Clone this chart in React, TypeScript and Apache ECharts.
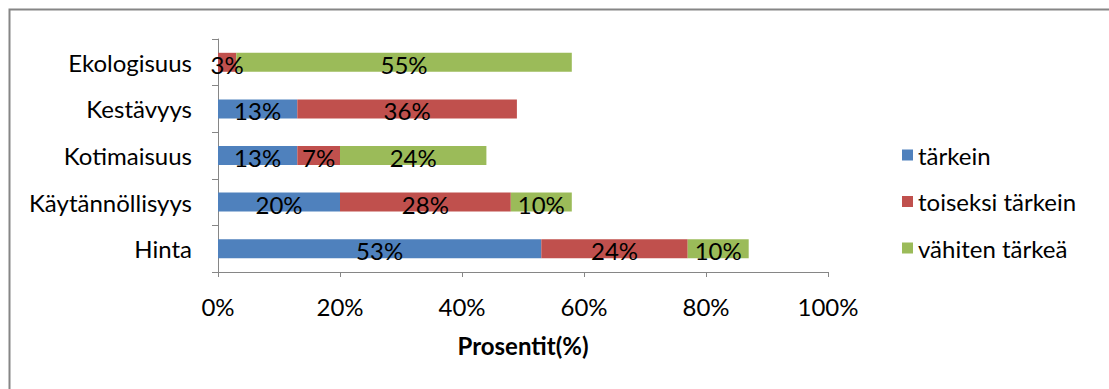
import React, { useEffect, useRef } from "react";
import * as echarts from "echarts";

const categories = ["Hinta", "Käytännöllisyys", "Kotimaisuus", "Kestävyys", "Ekologisuus"];
const tarkein = [53, 20, 13, 13, 0];
const toiseksi = [24, 28, 7, 36, 3];
const vahiten = [10, 10, 24, 0, 55];
const seriesNames = ["tärkein", "toiseksi tärkein", "vähiten tärkeä"];
const colors = ["#4F81BD", "#C0504D", "#9BBB59"];
const xTicks = [0, 20, 40, 60, 80, 100];

const FONT = "Lato";
const FS = 24;

export default function App() {
  const ref = useRef<HTMLDivElement>(null);
  useEffect(() => {
    if (!ref.current) return;
    const chart = echarts.init(ref.current, null, { renderer: "svg" });
    const mk = (name: string, data: number[], color: string) => ({
      name,
      type: "bar",
      stack: "total",
      data,
      barWidth: 19,
      itemStyle: { color },
      label: {
        show: true,
        position: "inside",
        color: "#000",
        fontFamily: FONT,
        fontSize: FS,
        offset: [0, 2],
        formatter: (p: any) => (p.value ? `${p.value}%` : ""),
      },
    });
    chart.setOption({
      animation: false,
      textStyle: { fontFamily: FONT },
      graphic: [
        {
          type: "rect",
          shape: { x: 9.5, y: 9.5, width: 1300, height: 600 },
          style: { fill: "none", stroke: "#868686", lineWidth: 2 },
          silent: true,
        },
      ],
      grid: { left: 218, right: 281, top: 39, bottom: 117, containLabel: false },
      legend: {
        orient: "vertical",
        left: 897,
        top: 138,
        itemWidth: 11,
        itemHeight: 11,
        itemGap: 22.5,
        icon: "rect",
        data: seriesNames,
        textStyle: { fontFamily: FONT, fontSize: FS, color: "#000", lineHeight: 24 },
      },
      xAxis: {
        type: "value",
        min: xTicks[0],
        max: xTicks[xTicks.length - 1],
        interval: 20,
        splitLine: { show: false },
        axisLine: { show: true, lineStyle: { color: "#868686", width: 1 } },
        axisTick: { show: true, length: 5, lineStyle: { color: "#868686" } },
        axisLabel: { formatter: "{value}%", color: "#000", fontSize: FS, fontFamily: FONT, margin: 22 },
        name: "Prosentit(%)",
        nameLocation: "middle",
        nameGap: 61,
        nameTextStyle: { color: "#000", fontSize: 24, fontWeight: "bold", fontFamily: FONT },
      },
      yAxis: {
        type: "category",
        data: categories,
        axisLine: { show: true, lineStyle: { color: "#868686", width: 1 } },
        axisTick: { show: true, length: 6, lineStyle: { color: "#868686" } },
        axisLabel: { color: "#000", fontSize: FS, fontFamily: FONT, margin: 26 },
      },
      series: [
        mk(seriesNames[0], tarkein, colors[0]),
        mk(seriesNames[1], toiseksi, colors[1]),
        mk(seriesNames[2], vahiten, colors[2]),
      ],
    });
    return () => chart.dispose();
  }, []);
  return (
    <div
      ref={ref}
      style={{ position: "absolute", left: 0, top: 0, width: 1109, height: 389, background: "#fff" }}
    />
  );
}
